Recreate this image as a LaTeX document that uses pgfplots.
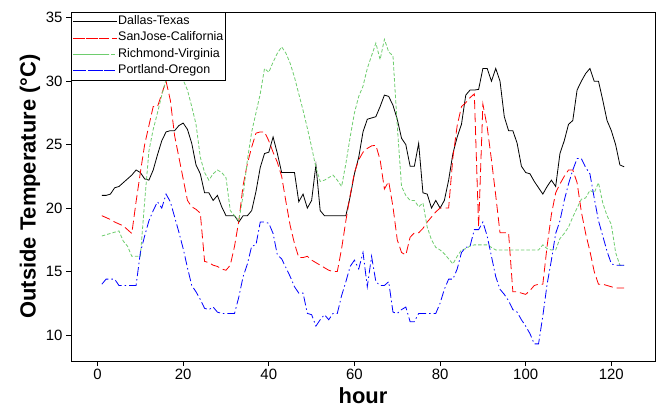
\documentclass[border=0pt]{standalone}
\usepackage{fontspec}
\setmainfont{Liberation Sans}
\usepackage{pgfplots}
\pgfplotsset{compat=1.18}
\usepackage{pgfplotstable}

\pgfplotstableread{
h D S R P
1 21.0 19.4 17.8 14.0
2 21.0 19.25 17.9 14.4
3 21.1 19.1 18.0 14.4
4 21.6 18.9 18.1 14.4
5 21.7 18.75 18.2 13.9
6 22.0 18.6 17.4 13.9
7 22.3 18.3 17.0 13.9
8 22.6 18.0 16.2 13.9
9 23.0 20.5 16.2 13.9
10 22.8 22.8 16.2 16.5
11 22.3 25.0 20.5 17.8
12 22.2 26.5 24.5 19.0
13 23.0 28.0 26.2 19.8
14 24.2 28.0 27.5 20.5
15 25.3 29.0 28.9 20.0
16 26.0 30.0 30.1 21.1
17 26.1 28.5 30.6 20.5
18 26.1 25.7 30.6 19.3
19 26.5 24.0 30.4 18.1
20 26.7 22.3 30.1 16.8
21 26.2 20.6 29.3 15.3
22 25.1 20.1 28.0 13.9
23 23.4 19.9 26.6 13.4
24 22.7 19.6 24.0 12.8
25 21.2 15.8 22.8 12.1
26 21.2 15.7 22.2 12.0
27 20.6 15.5 22.7 12.2
28 21.0 15.4 23.0 11.8
29 20.1 15.2 22.8 11.7
30 19.4 15.1 22.4 11.7
31 19.4 15.5 19.8 11.7
32 19.4 17.0 19.4 11.7
33 18.9 19.0 19.0 13.0
34 19.4 21.8 21.0 14.6
35 19.4 23.5 23.8 15.6
36 19.8 24.8 26.0 17.0
37 21.3 25.9 27.5 17.1
38 23.2 26.0 29.0 18.9
39 24.3 26.0 31.0 18.9
40 24.4 25.3 30.7 18.8
41 25.6 24.4 31.5 18.0
42 24.3 23.6 32.2 16.3
43 22.8 22.5 32.7 16.0
44 22.8 20.5 32.2 15.3
45 22.8 18.6 31.4 14.6
46 22.8 17.2 30.3 13.8
47 20.5 16.1 29.0 13.3
48 21.1 16.1 27.7 13.3
49 20.0 16.2 26.3 11.7
50 20.6 15.9 24.8 11.6
51 23.4 15.7 23.2 10.7
52 19.8 15.5 22.1 11.2
53 19.4 15.3 22.2 11.6
54 19.4 15.1 22.4 11.2
55 19.4 15.0 22.6 11.7
56 19.4 15.0 22.2 11.7
57 19.4 16.8 21.7 13.1
58 19.4 19.0 23.5 14.2
59 20.9 21.0 25.6 15.4
60 22.7 22.8 27.5 15.9
61 24.0 23.8 28.8 15.2
62 26.0 24.4 29.6 16.5
63 27.0 24.7 31.0 13.8
64 27.1 24.9 32.0 16.2
65 27.2 24.95 33.0 14.2
66 28.0 23.8 31.7 13.9
67 28.9 21.5 33.3 13.9
68 28.8 22.1 32.3 14.2
69 28.1 20.1 32.0 11.8
70 27.0 17.5 26.5 11.7
71 25.5 16.5 21.7 12.0
72 25.0 16.3 21.0 12.2
73 23.3 17.7 20.6 11.05
74 23.3 18.05 20.6 11.05
75 25.1 18.05 20.1 11.7
76 21.2 18.4 20.4 11.7
77 21.1 18.9 18.5 11.7
78 20.0 19.3 17.5 11.7
79 20.6 19.7 16.9 11.7
80 20.0 20.0 16.7 12.5
81 20.6 20.0 16.4 13.6
82 22.2 20.0 16.0 14.4
83 24.3 24.0 15.6 14.4
84 25.6 26.5 16.2 15.2
85 26.6 28.0 16.7 16.5
86 28.9 28.3 16.8 16.9
87 29.3 28.7 17.0 17.0
88 29.3 29.0 17.1 18.3
89 29.35 18.5 17.1 18.3
90 31.0 28.2 17.1 18.9
91 31.0 26.4 17.1 17.8
92 30.0 23.8 16.9 16.2
93 31.0 21.0 16.7 14.6
94 30.0 18.05 16.7 13.6
95 27.2 18.05 16.7 13.2
96 26.1 18.05 16.7 12.7
97 26.1 13.4 16.7 12.0
98 25.1 13.4 16.7 11.8
99 23.3 13.3 16.7 11.2
100 22.8 13.2 16.7 10.7
101 22.7 13.5 16.7 10.1
102 22.1 13.9 16.7 9.3
103 21.6 14.0 16.7 9.3
104 21.1 14.0 17.1 11.5
105 21.7 17.0 16.8 14.0
106 22.2 19.5 16.7 15.9
107 21.7 21.2 16.7 18.0
108 24.3 21.9 17.6 19.0
109 25.3 22.5 18.0 20.6
110 26.6 23.0 18.5 21.9
111 26.9 23.0 19.3 23.0
112 29.3 22.0 20.0 23.9
113 30.0 19.7 20.7 23.9
114 30.6 18.0 20.8 23.2
115 31.0 16.6 21.4 22.7
116 30.0 15.0 21.2 20.8
117 30.0 14.0 22.0 19.0
118 28.5 14.0 20.4 17.8
119 26.9 13.9 19.4 16.6
120 26.1 13.8 18.7 15.6
121 25.0 13.7 16.5 15.5
122 23.4 13.7 15.5 15.5
123 23.25 13.7 15.5 15.5
}\temps

\definecolor{cred}{RGB}{255,0,0}
\definecolor{cgreen}{RGB}{110,205,110}
\definecolor{cblue}{RGB}{0,0,255}

\begin{document}
\begin{tikzpicture}
\useasboundingbox (-71bp,-46bp) rectangle (593bp,361bp);
\begin{axis}[
  scale only axis,
  width=584bp, height=349bp,
  xmin=-6.2, xmax=130.2, ymin=7.95, ymax=35.45,
  xtick={0,20,...,120}, ytick={10,15,...,35},
  tick align=outside, tick pos=left,
  major tick length=5bp,
  axis line style={line width=0.8bp},
  every tick/.style={black, line width=0.8bp},
  /pgf/number format/assume math mode=true,
  ticklabel style={font=\fontsize{15}{17}\selectfont},
  xlabel={\textbf{hour}},
  ylabel={\textbf{Outside Temperature (°C)}},
  label style={font=\fontsize{22}{24}\selectfont},
  xlabel style={at={(axis description cs:0.5,-0.100)}, anchor=center},
  ylabel style={at={(axis description cs:-0.0702,0.5)}, anchor=center},
  legend style={at={(0,1)}, anchor=north west, draw=black, line width=0.8bp, fill=white,
    font=\fontsize{12.5}{14}\selectfont, inner sep=1bp,
    nodes={inner xsep=1bp, inner ysep=2.2bp, text height=9bp, text depth=3bp}, row sep=0bp},
  legend cell align=left,
  legend image code/.code={\path (0bp,0bp) -- (44bp,0bp); \draw[#1] (3bp,0bp) -- (36bp,0bp);},
]
\addplot[black, line width=0.8bp] table[x=h, y=D] {\temps};
\addlegendentry{Dallas-Texas}
\addplot[cred, line width=0.8bp, dash pattern=on 9bp off 4bp] table[x=h, y=S] {\temps};
\addlegendentry{SanJose-California}
\addplot[cgreen, line width=0.8bp, dash pattern=on 3.5bp off 2bp] table[x=h, y=R] {\temps};
\addlegendentry{Richmond-Virginia}
\addplot[cblue, line width=0.8bp, dash pattern=on 9bp off 3bp on 1.5bp off 3bp] table[x=h, y=P] {\temps};
\addlegendentry{Portland-Oregon}
\end{axis}
\end{tikzpicture}
\end{document}
